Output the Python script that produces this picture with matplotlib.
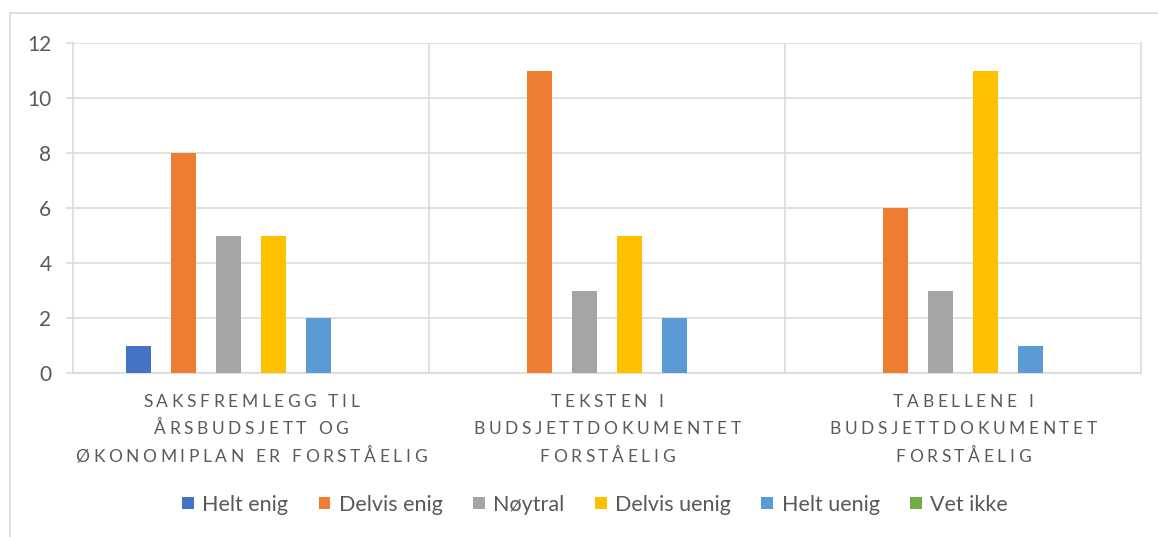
import matplotlib
matplotlib.use("Agg")
import matplotlib.pyplot as plt
from matplotlib.font_manager import FontProperties, findfont, get_font
from matplotlib.lines import Line2D
from matplotlib.patches import Patch
import numpy as np

# ---------------- data ----------------
categories = [
    "SAKSFREMLEGG TIL\nÅRSBUDSJETT OG\nØKONOMIPLAN ER FORSTÅELIG",
    "TEKSTEN I\nBUDSJETTDOKUMENTET\nFORSTÅELIG",
    "TABELLENE I\nBUDSJETTDOKUMENTET\nFORSTÅELIG",
]
series_names = ["Helt enig", "Delvis enig", "Nøytral", "Delvis uenig", "Helt uenig", "Vet ikke"]
helt_enig = [1, 0, 0]
delvis_enig = [8, 11, 6]
noytral = [5, 3, 3]
delvis_uenig = [5, 5, 11]
helt_uenig = [2, 2, 1]
vet_ikke = [0, 0, 0]
series_values = [helt_enig, delvis_enig, noytral, delvis_uenig, helt_uenig, vet_ikke]
colors = ["#4472C4", "#ED7D31", "#A5A5A5", "#FFC000", "#5B9BD5", "#70AD47"]
y_ticks = [0, 2, 4, 6, 8, 10, 12]

FONT = "Lato"
TXT = "#595959"
GRID = "#D9D9D9"

W, H = 1158, 537
fig = plt.figure(figsize=(W / 100, H / 100), dpi=100)
fig.patch.set_facecolor("white")

# outer chart border (only left/top visible in crop)
fig.add_artist(Line2D([10 / W, 10 / W], [0, 1 - 13 / H], transform=fig.transFigure,
                      color=GRID, lw=1.2))
fig.add_artist(Line2D([10 / W, 1], [1 - 13 / H, 1 - 13 / H], transform=fig.transFigure,
                      color=GRID, lw=1.2))

ax = fig.add_axes([73 / W, 1 - 373 / H, (1141 - 73) / W, (373 - 43) / H])
ax.set_facecolor("white")

n_series = len(series_values)
step = 45 / 356
bar_w = 25 / 356
x = np.arange(len(categories))
for j, (name, vals, c) in enumerate(zip(series_names, series_values, colors)):
    ax.bar(x + (j - (n_series - 1) / 2) * step, vals, width=bar_w, color=c,
           label=name, zorder=3)

ax.set_xlim(-0.5, len(categories) - 0.5)
ax.set_ylim(0, 12)
ax.set_yticks(y_ticks)
ax.set_yticklabels([str(v) for v in y_ticks], fontfamily=FONT, fontsize=15, color=TXT)
ax.tick_params(axis="y", length=5, width=1.1, color=GRID, pad=10.5)
ax.set_xticks([])
ax.yaxis.grid(True, color=GRID, lw=1.1, zorder=0)
ax.set_axisbelow(True)
for xv in np.arange(0.5, len(categories) - 0.5, 1.0):
    ax.axvline(xv, color=GRID, lw=1.1, zorder=0)
for side in ["left", "right", "bottom"]:
    ax.spines[side].set_color(GRID)
    ax.spines[side].set_linewidth(1.1)
ax.spines["top"].set_visible(False)

# category labels with letter spacing (drawn character by character)
cat_size = 12.5
tracking = 2.6  # points
prop = FontProperties(family=FONT, size=cat_size)
ft = get_font(findfont(prop))
ft.set_size(cat_size, 72)


def adv(ch):
    g = ft.load_char(ord(ch))
    return g.linearHoriAdvance / 65536.0


baselines_px = [34, 61.5, 89]
for i, label in enumerate(categories):
    for li, line in enumerate(label.split("\n")):
        widths = [adv(ch) for ch in line]
        total = sum(widths) + tracking * (len(line) - 1)
        pos = -total / 2
        dy = -baselines_px[li] * 0.72
        for ch, w in zip(line, widths):
            if ch != " ":
                ax.annotate(ch, xy=(i, 0), xycoords=("data", "axes fraction"),
                            xytext=(pos + w / 2, dy), textcoords="offset points",
                            ha="center", va="baseline", fontfamily=FONT,
                            fontsize=cat_size, color=TXT, annotation_clip=False)
            pos += w + tracking

handles = [Patch(facecolor=c, edgecolor="none") for c in colors]
leg = fig.legend(handles, series_names, loc="center", bbox_to_anchor=(595 / W, 1 - 505 / H),
                 ncol=6, frameon=False, prop=FontProperties(family=FONT, size=15.5),
                 handlelength=0.55, handleheight=0.5, handletextpad=0.4,
                 columnspacing=1.4)
for t in leg.get_texts():
    t.set_color(TXT)

fig.savefig("out.png", dpi=100, facecolor="white")
